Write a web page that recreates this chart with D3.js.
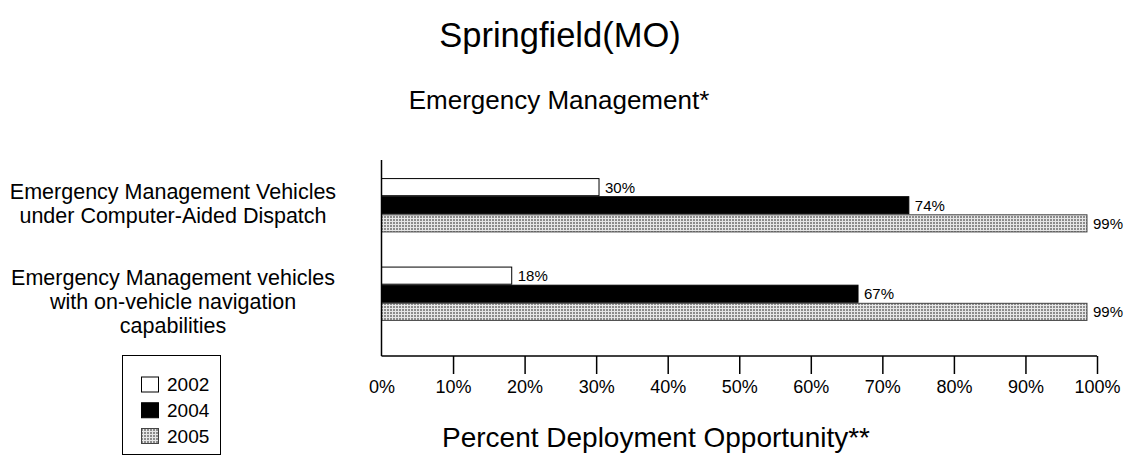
<!DOCTYPE html>
<html>
<head>
<meta charset="utf-8">
<script src="https://cdn.jsdelivr.net/npm/d3@7"></script>
<style>
  body { margin: 0; background: #fff; }
  svg { display: block; font-family: "Liberation Sans", Arial, sans-serif; }
</style>
</head>
<body>
<svg id="chart" width="1131" height="459"></svg>
<script>
const title = "Springfield(MO)";
const subtitle = "Emergency Management*";
const xTitle = "Percent Deployment Opportunity**";
const categories = [
  ["Emergency Management Vehicles", "under Computer-Aided Dispatch"],
  ["Emergency Management vehicles", "with on-vehicle navigation", "capabilities"]
];
const categoryKeys = ["cad", "nav"];
const seriesNames = ["2002", "2004", "2005"];
const values2002 = [30.4, 18.2];
const values2004 = [73.7, 66.6];
const values2005 = [98.6, 98.6];
const valueLabels2002 = ["30%", "18%"];
const valueLabels2004 = ["74%", "67%"];
const valueLabels2005 = ["99%", "99%"];
const xTicks = [0, 10, 20, 30, 40, 50, 60, 70, 80, 90, 100];

const svg = d3.select("#chart");
const defs = svg.append("defs");
const pat = defs.append("pattern").attr("id", "grid").attr("patternUnits", "userSpaceOnUse")
  .attr("width", 3).attr("height", 3);
pat.append("rect").attr("width", 3).attr("height", 3).attr("fill", "#8c8c8c");
pat.append("rect").attr("x", 0).attr("y", 2).attr("width", 3).attr("height", 1).attr("fill", "#e6e6e6");
pat.append("rect").attr("x", 2).attr("y", 0).attr("width", 1).attr("height", 3).attr("fill", "#e6e6e6");

const fills = {"2002": "#fff", "2004": "#000", "2005": "url(#grid)"};
const strokes = {"2002": "#000", "2004": "#000", "2005": "#444"};

const x = d3.scaleLinear().domain([0, 100]).range([381.5, 1097]);
const y = d3.scaleBand().domain(categoryKeys).range([161, 338]).paddingInner(0.386).paddingOuter(0.193);
const ys = d3.scaleBand().domain(seriesNames).range([0, y.bandwidth()]);
const yLab = d3.scaleBand().domain(categoryKeys).range([160, 356]);

const data = [];
categoryKeys.forEach((k, i) => {
  data.push({cat: k, s: "2002", v: values2002[i], lab: valueLabels2002[i]});
  data.push({cat: k, s: "2004", v: values2004[i], lab: valueLabels2004[i]});
  data.push({cat: k, s: "2005", v: values2005[i], lab: valueLabels2005[i]});
});

// titles
svg.append("text").attr("x", 560).attr("y", 47).attr("text-anchor", "middle")
  .attr("font-size", 34.5).text(title);
svg.append("text").attr("x", 559).attr("y", 109).attr("text-anchor", "middle")
  .attr("font-size", 26).text(subtitle);

// bars
svg.append("g").selectAll("rect").data(data).join("rect")
  .attr("x", x(0))
  .attr("y", d => y(d.cat) + ys(d.s) + 0.5)
  .attr("width", d => x(d.v) - x(0))
  .attr("height", ys.bandwidth() - 1)
  .attr("fill", d => fills[d.s])
  .attr("stroke", d => strokes[d.s])
  .attr("stroke-width", 1);

svg.append("g").selectAll("text").data(data).join("text")
  .attr("x", d => x(d.v) + 6)
  .attr("y", d => y(d.cat) + ys(d.s) + ys.bandwidth() / 2)
  .attr("dy", "0.36em")
  .attr("font-size", 15)
  .text(d => d.lab);

// axes
const xAxis = d3.axisBottom(x).tickValues(xTicks).tickFormat(d => d + "%").tickSize(18).tickPadding(6);
const gx = svg.append("g").attr("transform", "translate(0,356)").call(xAxis);
gx.select(".domain").attr("stroke", "#000").attr("stroke-width", 1.5).attr("d", `M${x(0)},0H${x(100)}`);
gx.selectAll(".tick line").attr("stroke", "#000").attr("stroke-width", 1.5)
  .filter(d => d === 0).remove();
gx.selectAll(".tick text").attr("font-size", 18).attr("font-family", "Liberation Sans, Arial, sans-serif").attr("fill", "#000");

svg.append("line").attr("x1", x(0)).attr("x2", x(0)).attr("y1", 160).attr("y2", 356)
  .attr("stroke", "#000").attr("stroke-width", 1.5);

// category labels
categories.forEach((lines, i) => {
  const cy = yLab(categoryKeys[i]) + yLab.bandwidth() / 2 - 6;
  const lh = 24;
  const t = svg.append("text").attr("text-anchor", "middle").attr("font-size", 21.5);
  lines.forEach((ln, j) => {
    t.append("tspan").attr("x", 173)
      .attr("y", cy + (j - (lines.length - 1) / 2) * lh)
      .attr("dy", "0.36em").text(ln);
  });
});

// x title
svg.append("text").attr("x", 656).attr("y", 447).attr("text-anchor", "middle")
  .attr("font-size", 28).text(xTitle);

// legend
const lg = svg.append("g");
lg.append("rect").attr("x", 122.5).attr("y", 355.5).attr("width", 98).attr("height", 99)
  .attr("fill", "#fff").attr("stroke", "#000").attr("stroke-width", 1);
const ly = d3.scalePoint().domain(seriesNames).range([384.5, 436]);
seriesNames.forEach(s => {
  lg.append("rect").attr("x", 141.5).attr("y", ly(s) - 7.5).attr("width", 17).attr("height", 15)
    .attr("fill", fills[s]).attr("stroke", strokes[s]).attr("stroke-width", 1);
  lg.append("text").attr("x", 167).attr("y", ly(s)).attr("dy", "0.36em")
    .attr("font-size", 19).text(s);
});
</script>
</body>
</html>
